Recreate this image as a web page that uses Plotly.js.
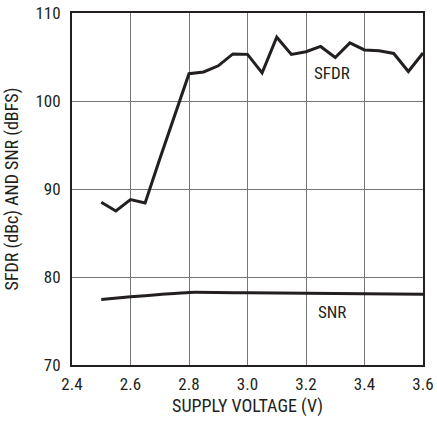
<!DOCTYPE html>
<html>
<head>
<meta charset="utf-8">
<script src="https://cdn.plot.ly/plotly-3.0.1.min.js"></script>
<style>html,body{margin:0;padding:0;background:#fff;}#chart{width:437px;height:421px;}</style>
</head>
<body>
<div id="chart"></div>
<script>
const sfdrX = [2.5, 2.55, 2.6, 2.65, 2.7, 2.75, 2.8, 2.85, 2.9, 2.95, 3.0, 3.05, 3.1, 3.15, 3.2, 3.25, 3.3, 3.35, 3.4, 3.45, 3.5, 3.55, 3.6];
const sfdrY = [88.5, 87.5, 88.8, 88.4, 93.4, 98.3, 103.1, 103.3, 104.0, 105.35, 105.3, 103.2, 107.25, 105.3, 105.6, 106.2, 104.95, 106.6, 105.8, 105.7, 105.4, 103.35, 105.45];
const snrX = [2.5, 2.6, 2.7, 2.8, 3.0, 3.2, 3.4, 3.6];
const snrY = [77.45, 77.75, 78.0, 78.25, 78.2, 78.15, 78.1, 78.05];
const xTicks = [2.4, 2.6, 2.8, 3.0, 3.2, 3.4, 3.6];
const xTickText = ['2.4', '2.6', '2.8', '3.0', '3.2', '3.4', '3.6'];
const yTicks = [70, 80, 90, 100, 110];
const seriesLabels = ['SFDR', 'SNR'];
const labelX = [3.29, 3.29];
const labelY = [103.15, 76.0];

const FONT = '"Liberation Sans Narrow", "Arial Narrow", "Roboto Condensed", Arial, sans-serif';
const INK = '#231f20';

const traces = [
  {x: sfdrX, y: sfdrY, mode: 'lines', line: {color: INK, width: 3}, hoverinfo: 'skip', showlegend: false},
  {x: snrX, y: snrY, mode: 'lines', line: {color: INK, width: 3, shape: 'spline', smoothing: 0.5}, hoverinfo: 'skip', showlegend: false}
];

const layout = {
  width: 437, height: 421,
  margin: {l: 72, r: 14, t: 13, b: 56},
  paper_bgcolor: '#fff', plot_bgcolor: '#fff',
  font: {family: FONT, size: 17, color: INK},
  xaxis: {
    range: [2.4, 3.6], tickvals: xTicks, ticktext: xTickText,
    showgrid: true, gridcolor: '#777', gridwidth: 1,
    showline: true, linecolor: INK, linewidth: 2, mirror: true,
    zeroline: false, ticks: '', fixedrange: true, ticklabelstandoff: 3,
    tickfont: {family: FONT, size: 17, color: INK},
    title: {text: 'SUPPLY VOLTAGE (V)', font: {family: FONT, size: 18, color: INK}, standoff: 6}
  },
  yaxis: {
    range: [70, 110], tickvals: yTicks,
    showgrid: true, gridcolor: '#777', gridwidth: 1,
    showline: true, linecolor: INK, linewidth: 2, mirror: true,
    zeroline: false, ticks: '', fixedrange: true, ticklabelstandoff: 6,
    tickfont: {family: FONT, size: 17, color: INK},
    title: {text: 'SFDR (dBc) AND SNR (dBFS)', font: {family: FONT, size: 18, color: INK}, standoff: 12}
  },
  annotations: [
    {x: labelX[0], y: labelY[0], xref: 'x', yref: 'y', text: seriesLabels[0], showarrow: false, font: {family: FONT, size: 17, color: INK}},
    {x: labelX[1], y: labelY[1], xref: 'x', yref: 'y', text: seriesLabels[1], showarrow: false, font: {family: FONT, size: 17, color: INK}}
  ]
};

Plotly.newPlot('chart', traces, layout, {displayModeBar: false, staticPlot: true});
</script>
</body>
</html>
